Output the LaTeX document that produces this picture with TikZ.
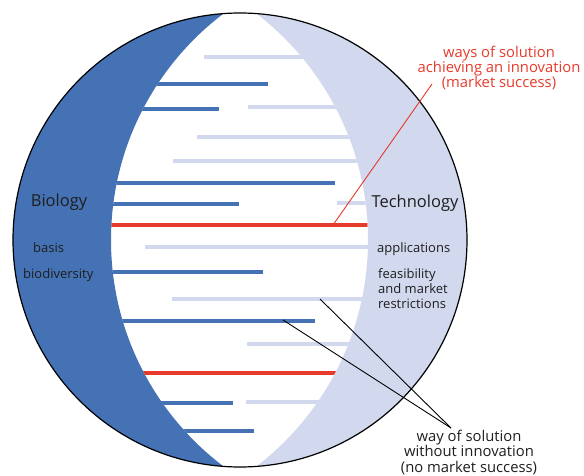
\documentclass[tikz,border=0pt]{standalone}
\usepackage{fontspec}
\setmainfont{Open Sans}
\usepackage{xcolor}
\usepackage{tikz}

\definecolor{bioblue}{HTML}{4472B4}
\definecolor{techblue}{HTML}{D2D9EE}
\definecolor{succred}{HTML}{E63A2A}
\definecolor{inkgrey}{HTML}{1E1E1E}

\tikzset{
  bar/.style={line width=4},
  redbar/.style={line width=4.5, succred},
  sidetitle/.style={inner sep=0, text=inkgrey, font=\fontsize{16.5}{19}\selectfont},
  sidelabel/.style={inner sep=0, text=inkgrey, anchor=west, align=left, font=\fontsize{13}{15}\selectfont},
  note/.style={inner sep=0, align=center, font=\fontsize{14.8}{15.2}\selectfont},
  leader/.style={line width=0.9}
}

\begin{document}
\begin{tikzpicture}[x=1pt,y=-1pt]
\useasboundingbox (0,0) rectangle (584,476);
	% bars inside the lens
	\begin{scope}
	\clip (395,240) circle[radius=284];
	\clip (82.5,240) circle[radius=285.5];
	\foreach \y/\xs in {57/204, 107/248, 137/197, 161/173, 203/337, 247/145, 299/172, 344/247, 402/246}
		\draw[bar, techblue] (\xs,\y) -- (420,\y);
	\foreach \y/\xe in {84/268, 109/219, 183/335, 204/239, 272/263, 321/315, 403/233, 431/254}
		\draw[bar, bioblue] (60,\y) -- (\xe,\y);
	\draw[redbar] (60,225) -- (420,225);
	\draw[redbar] (60,373) -- (420,373);
	\end{scope}
	% the two sides
	\begin{scope}
	\clip (240,240) circle[radius=227];
	\fill[bioblue, even odd rule] (0,0) rectangle (584,476) (395,240) circle[radius=284];
	\fill[techblue, even odd rule] (0,0) rectangle (584,476) (82.5,240) circle[radius=285.5];
	\end{scope}
	\draw[line width=1.2] (240,240) circle[radius=227];

	\node[sidetitle] at (59,202) (bio) {Biology};
	\node[sidetitle] at (415,203) (tech) {Technology};
	\node[sidelabel] at (33,248) (basis) {basis};
	\node[sidelabel] at (23,275) (divers) {biodiversity};
	\node[sidelabel] at (377,249) (appl) {applications};
	\node[sidelabel] at (378,289) (restr) {feasibility\\and market\\restrictions};

	\node[note, text=succred] at (499,68) (innov) {ways of solution\\achieving an innovation\\(market success)};
	\node[note, text=inkgrey] at (469,452.5) (nomarket) {way of solution\\without innovation\\(no market success)};

	\coordinate (innovtip) at (432,84);
	\coordinate (redhit) at (333,225);
	\coordinate (nmtip) at (451,428);
	\coordinate (lighthit) at (320,299);
	\coordinate (darkhit) at (283,320);
	\draw[leader, succred] (innovtip) -- (redhit);
	\draw[leader] (nmtip) -- (lighthit);
	\draw[leader] (nmtip) -- (darkhit);
\end{tikzpicture}
\end{document}
